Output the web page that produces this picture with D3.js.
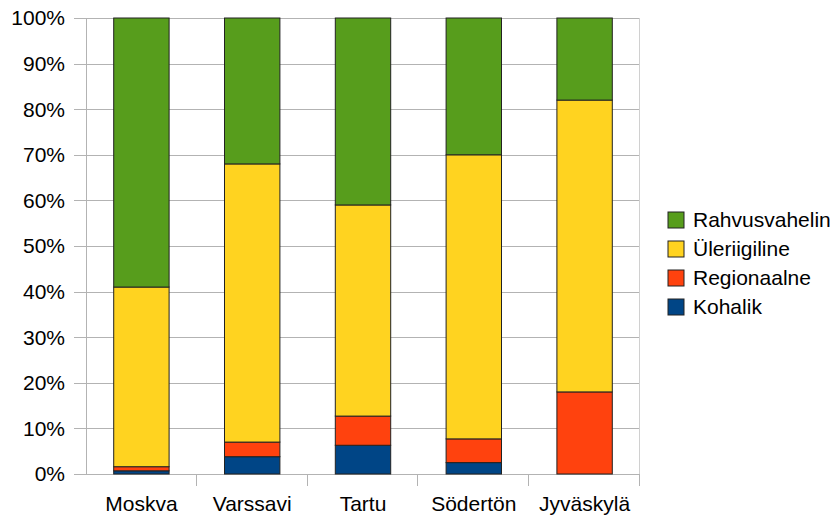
<!DOCTYPE html>
<html>
<head>
<meta charset="utf-8">
<script src="https://cdn.jsdelivr.net/npm/d3@7"></script>
<style>
  body { margin: 0; background: #fff; }
  text { font-family: "Liberation Sans", Arial, sans-serif; fill: #000; }
</style>
</head>
<body>
<div id="chart"></div>
<script>
// andmed (protsendid)
var cities = ['Moskva', 'Varssavi', 'Tartu', 'Södertön', 'Jyväskylä'];
var kohalik = [0.7, 3.8, 6.3, 2.5, 0];
var regionaalne = [0.9, 3.2, 6.4, 5.2, 18];
var uleriigiline = [39.4, 61, 46.3, 62.3, 64];
var rahvusvaheline = [59, 32, 41, 30, 18];
var seriesNames = ['Kohalik', 'Regionaalne', 'Üleriigiline', 'Rahvusvahelin'];
var colors = ['#004586', '#ff420e', '#ffd320', '#579d1c'];
var yTicks = [0, 10, 20, 30, 40, 50, 60, 70, 80, 90, 100];

var width = 835, height = 518;
var margin = {left: 86, right: 195, top: 18, bottom: 44};
var fontSize = 21;

var rows = cities.map(function (c, i) {
    return {city: c, Kohalik: kohalik[i], Regionaalne: regionaalne[i],
        'Üleriigiline': uleriigiline[i], Rahvusvahelin: rahvusvaheline[i]};
});

var svg = d3.select('#chart').append('svg')
    .attr('width', width)
    .attr('height', height);

var x = d3.scaleBand()
    .domain(cities)
    .range([margin.left, width - margin.right])
    .paddingInner(0.5)
    .paddingOuter(0.25);

var y = d3.scaleLinear()
    .domain([0, 100])
    .range([height - margin.bottom, margin.top]);

// ruudustik
svg.append('g')
    .selectAll('line')
    .data(yTicks)
    .enter()
    .append('line')
    .attr('x1', margin.left - 12)
    .attr('x2', width - margin.right)
    .attr('y1', function (d) { return Math.round(y(d)) + 0.5; })
    .attr('y2', function (d) { return Math.round(y(d)) + 0.5; })
    .attr('stroke', '#b3b3b3');

svg.append('line')
    .attr('x1', margin.left + 0.5).attr('x2', margin.left + 0.5)
    .attr('y1', y(100)).attr('y2', y(0))
    .attr('stroke', '#b3b3b3');
svg.append('line')
    .attr('x1', width - margin.right - 0.5).attr('x2', width - margin.right - 0.5)
    .attr('y1', y(100)).attr('y2', y(0))
    .attr('stroke', '#d0d0d0');

// x-telje kriipsud kategooriate vahel
var step = x.step();
svg.append('g')
    .selectAll('line')
    .data(d3.range(1, cities.length + 1))
    .enter()
    .append('line')
    .attr('x1', function (d) { return Math.round(margin.left + d * step) - 0.5; })
    .attr('x2', function (d) { return Math.round(margin.left + d * step) - 0.5; })
    .attr('y1', y(0))
    .attr('y2', y(0) + 12)
    .attr('stroke', '#b3b3b3');

// tulbad
var stack = d3.stack().keys(seriesNames);
var layers = stack(rows);

svg.append('g')
    .selectAll('g')
    .data(layers)
    .enter()
    .append('g')
    .attr('fill', function (d, i) { return colors[i]; })
    .selectAll('rect')
    .data(function (d) { return d; })
    .enter()
    .append('rect')
    .filter(function (d) { return d[1] - d[0] > 0; })
    .attr('x', function (d) { return x(d.data.city); })
    .attr('width', x.bandwidth())
    .attr('y', function (d) { return y(d[1]); })
    .attr('height', function (d) { return y(d[0]) - y(d[1]); })
    .attr('stroke', '#222')
    .attr('stroke-width', 1);

// y-telje sildid
svg.append('g')
    .selectAll('text')
    .data(yTicks)
    .enter()
    .append('text')
    .attr('x', margin.left - 21)
    .attr('y', function (d) { return y(d); })
    .attr('dy', '0.35em')
    .attr('text-anchor', 'end')
    .attr('font-size', fontSize)
    .text(function (d) { return d + '%'; });

// x-telje sildid
svg.append('g')
    .selectAll('text')
    .data(cities)
    .enter()
    .append('text')
    .attr('x', function (d) { return x(d) + x.bandwidth() / 2; })
    .attr('y', height - 7)
    .attr('text-anchor', 'middle')
    .attr('font-size', fontSize)
    .text(function (d) { return d; });

// legend
var legendOrder = [3, 2, 1, 0];
var legend = svg.append('g')
    .selectAll('g')
    .data(legendOrder)
    .enter()
    .append('g')
    .attr('transform', function (d, i) { return 'translate(668,' + (212 + i * 29) + ')'; });

legend.append('rect')
    .attr('width', 16)
    .attr('height', 16)
    .attr('fill', function (d) { return colors[d]; })
    .attr('stroke', '#222');

legend.append('text')
    .attr('x', 25)
    .attr('y', 8)
    .attr('dy', '0.35em')
    .attr('font-size', fontSize)
    .text(function (d) { return seriesNames[d]; });
</script>
</body>
</html>
